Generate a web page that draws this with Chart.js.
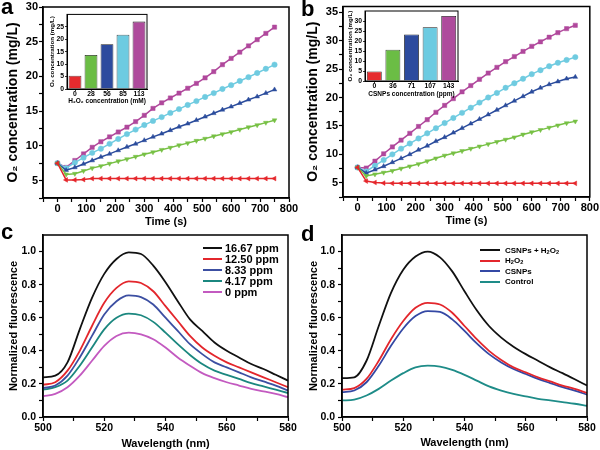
<!DOCTYPE html>
<html>
<head>
<meta charset="utf-8">
<title>O2 generation and fluorescence</title>
<script src="https://cdn.jsdelivr.net/npm/chart.js@4.4.1/dist/chart.umd.min.js"></script>
<style>
  html, body { margin: 0; padding: 0; background: #fff; }
  #figure { position: relative; width: 600px; height: 450px; overflow: hidden; font-family: "Liberation Sans", Arial, sans-serif; color: #000; }
  #figure canvas { position: absolute; }
  .panel-letter { position: absolute; font-weight: bold; font-size: 22px; line-height: 22px; }
  .legend { position: absolute; font-weight: bold; }
  .legend .row { display: flex; align-items: center; white-space: nowrap; }
  .legend .swatch { display: inline-block; height: 2px; }
  .legend sub { font-size: 70%; vertical-align: -1px; line-height: 0; }
</style>
</head>
<body>
<div id="figure">
  <canvas id="chart-a" width="300" height="232" style="left:0;top:0"></canvas>
  <canvas id="chart-b" width="300" height="232" style="left:300px;top:0"></canvas>
  <canvas id="chart-c" width="300" height="225" style="left:0;top:225px"></canvas>
  <canvas id="chart-d" width="300" height="225" style="left:300px;top:225px"></canvas>
  <canvas id="inset-a" width="110" height="95" style="left:45px;top:10px"></canvas>
  <canvas id="inset-b" width="125" height="100" style="left:340px;top:5px"></canvas>
  <div class="panel-letter" style="left:1px;top:-4px">a</div>
  <div class="panel-letter" style="left:301px;top:-2px">b</div>
  <div class="panel-letter" style="left:1px;top:221px">c</div>
  <div class="panel-letter" style="left:301px;top:223px">d</div>
  <div class="legend" id="legend-c" style="left:203px;top:243px;font-size:11px"></div>
  <div class="legend" id="legend-d" style="left:480px;top:245px;font-size:8px"></div>
</div>
<script>
// ---- data ----
const timePoints = [0, 30, 60, 90, 120, 150, 180, 210, 240, 270, 300, 330, 360, 390, 420, 450, 480, 510, 540, 570, 600, 630, 660, 690, 720, 750];

// panel a (H2O2 series)
const aRed     = [7.5, 5.1, 5.1, 5.15, 5.3, 5.3, 5.3, 5.3, 5.3, 5.3, 5.3, 5.3, 5.3, 5.3, 5.3, 5.3, 5.3, 5.3, 5.3, 5.3, 5.3, 5.3, 5.3, 5.3, 5.3, 5.3];
const aGreen   = [7.5, 5.9, 6.0, 6.4, 6.8, 7.1, 7.45, 7.8, 8.1, 8.45, 8.8, 9.1, 9.45, 9.75, 10.1, 10.4, 10.75, 11.05, 11.4, 11.7, 12.0, 12.35, 12.7, 13.0, 13.35, 13.7];
const aBlue    = [7.5, 6.5, 6.9, 7.4, 7.9, 8.4, 8.85, 9.35, 9.85, 10.3, 10.8, 11.3, 11.75, 12.25, 12.75, 13.2, 13.7, 14.2, 14.7, 15.2, 15.65, 16.15, 16.65, 17.1, 17.6, 18.1];
const aCyan    = [7.5, 6.8, 7.6, 8.3, 9.0, 9.6, 10.3, 11.0, 11.7, 12.35, 13.0, 13.6, 14.15, 14.75, 15.3, 15.9, 16.45, 17.05, 17.6, 18.2, 18.75, 19.35, 19.9, 20.5, 21.1, 21.7];
const aMagenta = [7.5, 6.9, 7.9, 8.85, 9.8, 10.6, 11.3, 12.0, 12.7, 13.5, 14.4, 15.4, 16.2, 16.9, 17.6, 18.3, 19.0, 19.8, 20.7, 21.7, 22.6, 23.5, 24.4, 25.3, 26.2, 27.1];

// panel b (CSNPs series)
const bRed     = [7.7, 5.3, 5.05, 4.95, 4.9, 4.9, 4.9, 4.9, 4.9, 4.9, 4.9, 4.9, 4.9, 4.9, 4.9, 4.9, 4.9, 4.9, 4.9, 4.9, 4.9, 4.9, 4.9, 4.9, 4.9, 4.9];
const bGreen   = [7.7, 6.2, 6.5, 6.8, 7.1, 7.5, 7.9, 8.3, 8.8, 9.3, 9.8, 10.2, 10.6, 11.0, 11.4, 11.8, 12.2, 12.6, 13.0, 13.5, 13.9, 14.3, 14.7, 15.1, 15.5, 15.8];
const bBlue    = [7.7, 6.7, 7.3, 7.9, 8.6, 9.3, 10.0, 10.8, 11.5, 12.3, 13.0, 13.8, 14.6, 15.4, 16.2, 17.0, 17.8, 18.6, 19.4, 20.2, 21.0, 21.7, 22.3, 22.8, 23.3, 23.6];
const bCyan    = [7.7, 7.0, 8.0, 9.0, 10.0, 11.0, 11.9, 12.8, 13.7, 14.6, 15.5, 16.4, 17.3, 18.2, 19.1, 20.0, 20.8, 21.7, 22.5, 23.3, 24.1, 24.8, 25.5, 26.1, 26.6, 27.1];
const bMagenta = [7.7, 7.6, 8.8, 10.1, 11.3, 12.5, 13.7, 14.9, 16.1, 17.4, 18.6, 19.8, 21.0, 22.1, 23.2, 24.3, 25.3, 26.3, 27.2, 28.1, 29.0, 29.8, 30.6, 31.4, 32.1, 32.7];

// insets
const insetALabels = ['0', '28', '56', '85', '113'];
const insetAValues = [5.3, 13.7, 18.0, 21.8, 27.1];
const insetBLabels = ['0', '36', '71', '107', '143'];
const insetBValues = [4.8, 15.6, 23.3, 26.9, 32.5];

// panels c and d (spectra)
const wavelengths = [500, 504, 508, 512, 516, 520, 524, 528, 532, 536, 540, 544, 548, 552, 556, 560, 564, 568, 572, 576, 580];
const cBlack   = [0.24, 0.25, 0.33, 0.53, 0.72, 0.865, 0.955, 0.995, 0.985, 0.915, 0.815, 0.70, 0.59, 0.52, 0.45, 0.40, 0.36, 0.32, 0.29, 0.255, 0.22];
const cRed     = [0.195, 0.21, 0.28, 0.40, 0.55, 0.69, 0.78, 0.82, 0.81, 0.76, 0.67, 0.58, 0.49, 0.42, 0.37, 0.33, 0.30, 0.27, 0.24, 0.21, 0.18];
const cBlue    = [0.175, 0.19, 0.25, 0.36, 0.49, 0.62, 0.70, 0.735, 0.725, 0.68, 0.60, 0.52, 0.44, 0.38, 0.33, 0.30, 0.27, 0.24, 0.215, 0.19, 0.16];
const cTeal    = [0.165, 0.18, 0.22, 0.31, 0.42, 0.53, 0.60, 0.625, 0.615, 0.575, 0.51, 0.44, 0.375, 0.32, 0.28, 0.255, 0.23, 0.205, 0.185, 0.165, 0.145];
const cMagenta = [0.125, 0.14, 0.18, 0.25, 0.34, 0.43, 0.49, 0.51, 0.50, 0.47, 0.42, 0.36, 0.31, 0.265, 0.235, 0.21, 0.19, 0.17, 0.155, 0.14, 0.12];
const cNames   = ['16.67 ppm', '12.50 ppm', '8.33 ppm', '4.17 ppm', '0 ppm'];

const dBlack = [0.235, 0.24, 0.34, 0.55, 0.75, 0.89, 0.97, 1.0, 0.965, 0.88, 0.76, 0.645, 0.55, 0.48, 0.425, 0.38, 0.34, 0.30, 0.265, 0.228, 0.19];
const dRed   = [0.165, 0.175, 0.23, 0.34, 0.47, 0.58, 0.66, 0.69, 0.68, 0.63, 0.55, 0.47, 0.40, 0.345, 0.30, 0.27, 0.24, 0.215, 0.19, 0.17, 0.145];
const dBlue  = [0.15, 0.16, 0.21, 0.31, 0.43, 0.535, 0.61, 0.64, 0.635, 0.59, 0.52, 0.445, 0.38, 0.33, 0.29, 0.26, 0.23, 0.205, 0.18, 0.16, 0.135];
const dTeal  = [0.10, 0.105, 0.13, 0.17, 0.22, 0.265, 0.30, 0.31, 0.305, 0.285, 0.255, 0.22, 0.185, 0.16, 0.14, 0.125, 0.11, 0.10, 0.09, 0.08, 0.068];
const dNames = ['CSNPs + H<sub>2</sub>O<sub>2</sub>', 'H<sub>2</sub>O<sub>2</sub>', 'CSNPs', 'Control'];

// tick values (minor ticks get no label)
const timeTicks    = [-50, 0, 50, 100, 150, 200, 250, 300, 350, 400, 450, 500, 550, 600, 650, 700, 750, 800];
const timeLabels   = [0, 100, 200, 300, 400, 500, 600, 700, 800];
const aYTicks      = [2.5, 5, 7.5, 10, 12.5, 15, 17.5, 20, 22.5, 25, 27.5, 30];
const aYLabels     = [5, 10, 15, 20, 25, 30];
const bYTicks      = [2.5, 5, 7.5, 10, 12.5, 15, 17.5, 20, 22.5, 25, 27.5, 30, 32.5, 35];
const bYLabels     = [5, 10, 15, 20, 25, 30, 35];
const waveTicks    = [500, 510, 520, 530, 540, 550, 560, 570, 580];
const waveLabels   = [500, 520, 540, 560, 580];
const fluoTicks    = [0, 0.1, 0.2, 0.3, 0.4, 0.5, 0.6, 0.7, 0.8, 0.9, 1.0];
const fluoLabels   = [0, 0.2, 0.4, 0.6, 0.8, 1.0];
const insetAYTicks = [0, 5, 10, 15, 20, 25];
const insetBYTicks = [0, 5, 10, 15, 20, 25, 30];

// ---- styling ----
const FONT = '"Liberation Sans", Arial, sans-serif';
const seriesColors = { red: '#e5262b', green: '#77c044', blue: '#2b4c9c', cyan: '#6fcbe0', magenta: '#b0489c' };
const barColors = ['#e62b2e', '#6bbd45', '#2d4b9e', '#6dcbe1', '#ae4b9c'];
const cColors = ['#111111', '#e3262c', '#3c4fa2', '#1b877f', '#c35ac0'];
const dColors = ['#111111', '#e3262c', '#3448a4', '#1e8c88'];

function boldFont(size) {
    return { family: FONT, size: size, weight: 'bold', lineHeight: 1 };
}

function isLabeled(v, list) {
    return list.some(l => Math.abs(l - v) < 1e-6);
}

// black box around the plot area, optional white fill (insets)
const framePlugin = {
    id: 'frame',
    beforeDraw(chart, args, opts) {
        if (!opts.fill) return;
        const { ctx, chartArea: a } = chart;
        ctx.save();
        ctx.fillStyle = opts.fill;
        ctx.fillRect(a.left, a.top, a.right - a.left, a.bottom - a.top);
        ctx.restore();
    },
    afterDraw(chart, args, opts) {
        const { ctx, chartArea: a } = chart;
        ctx.save();
        ctx.strokeStyle = '#000';
        ctx.lineWidth = opts.width || 1.5;
        ctx.strokeRect(a.left, a.top, a.right - a.left, a.bottom - a.top);
        ctx.restore();
    }
};
Chart.register(framePlugin);

function numberAxis(cfg) {
    return {
        type: 'linear',
        min: cfg.min,
        max: cfg.max,
        afterBuildTicks: scale => { scale.ticks = cfg.ticks.map(v => ({ value: v })); },
        afterFit: scale => {
            if (cfg.horizontal) scale.height = cfg.size; else scale.width = cfg.size;
        },
        border: { display: true, color: '#000', width: cfg.borderWidth || 1.5 },
        grid: { display: true, drawOnChartArea: false, drawTicks: true, tickLength: cfg.tickLength || 4, tickColor: '#000', tickWidth: cfg.tickWidth || 1.2 },
        ticks: {
            autoSkip: false,
            maxRotation: 0,
            color: '#000',
            padding: cfg.tickPadding,
            font: boldFont(cfg.tickSize),
            callback: v => isLabeled(v, cfg.labeled) ? cfg.format(v) : ''
        },
        title: { display: true, text: cfg.title, color: '#000', font: boldFont(cfg.titleSize), padding: cfg.titlePadding }
    };
}

function timeSeries(values, color, pointStyle, rotation) {
    return {
        data: values.map((y, i) => ({ x: timePoints[i], y: y })),
        borderColor: color,
        backgroundColor: color,
        borderWidth: 1.5,
        pointStyle: pointStyle,
        pointRotation: rotation,
        pointRadius: pointStyle === 'rect' ? 3 : 2.7,
        pointBorderWidth: 0.5,
        tension: 0
    };
}

function spectrum(values, color) {
    return {
        data: values.map((y, i) => ({ x: wavelengths[i], y: y })),
        borderColor: color,
        borderWidth: 1.8,
        pointRadius: 0,
        cubicInterpolationMode: 'monotone'
    };
}

const commonOptions = {
    responsive: false,
    animation: false,
    events: [],
    plugins: { legend: { display: false }, tooltip: { enabled: false }, frame: {} }
};

function o2Chart(id, series, yMin, yMax, yTicks, yLabels, padding) {
    return new Chart(document.getElementById(id), {
        type: 'line',
        data: {
            datasets: [
                timeSeries(series[0], seriesColors.red, 'triangle', 270),
                timeSeries(series[1], seriesColors.green, 'triangle', 180),
                timeSeries(series[2], seriesColors.blue, 'triangle', 0),
                timeSeries(series[3], seriesColors.cyan, 'circle', 0),
                timeSeries(series[4], seriesColors.magenta, 'rect', 0)
            ]
        },
        options: {
            ...commonOptions,
            layout: { padding: padding },
            scales: {
                x: numberAxis({
                    horizontal: true, min: -50, max: 800, ticks: timeTicks, labeled: timeLabels,
                    format: v => String(v), size: 29, tickPadding: 1, tickSize: 11,
                    title: 'Time (s)', titleSize: 11, titlePadding: { top: 0, bottom: 0 }
                }),
                y: numberAxis({
                    min: yMin, max: yMax, ticks: yTicks, labeled: yLabels,
                    format: v => String(v), size: 43, tickPadding: 1, tickSize: 11,
                    title: 'O\u2082 concentration (mg/L)', titleSize: 14, titlePadding: { top: 6, bottom: 0 }
                })
            }
        }
    });
}

function spectrumChart(id, series, colors, padding, yWidth, xHeight) {
    return new Chart(document.getElementById(id), {
        type: 'line',
        data: { datasets: series.map((s, i) => spectrum(s, colors[i])) },
        options: {
            ...commonOptions,
            layout: { padding: padding },
            scales: {
                x: numberAxis({
                    horizontal: true, min: 500, max: 580, ticks: waveTicks, labeled: waveLabels,
                    format: v => String(v), size: xHeight, tickPadding: 2, tickSize: 10.5,
                    title: 'Wavelength (nm)', titleSize: 11, titlePadding: { top: 0, bottom: 0 }
                }),
                y: numberAxis({
                    min: 0, max: 1.1, ticks: fluoTicks, labeled: fluoLabels,
                    format: v => v.toFixed(1), size: yWidth, tickPadding: 3, tickSize: 10.5,
                    title: 'Normalized fluorescence', titleSize: 11, titlePadding: { top: 8, bottom: 0 }
                })
            }
        }
    });
}

function insetChart(id, labels, values, yMax, yTicks, xTitle, padding, yWidth, xHeight, yTitlePad) {
    return new Chart(document.getElementById(id), {
        type: 'bar',
        data: {
            labels: labels,
            datasets: [{
                data: values,
                backgroundColor: barColors,
                borderColor: '#1a1a1a',
                borderWidth: 0.8,
                categoryPercentage: 0.8,
                barPercentage: 1
            }]
        },
        options: {
            ...commonOptions,
            plugins: { legend: { display: false }, tooltip: { enabled: false }, frame: { width: 1, fill: '#fff' } },
            layout: { padding: padding },
            scales: {
                x: {
                    afterFit: scale => { scale.height = xHeight; },
                    border: { display: true, color: '#000', width: 1 },
                    grid: { display: true, offset: false, drawOnChartArea: false, tickLength: 2, tickColor: '#000', tickWidth: 0.8 },
                    ticks: { color: '#000', padding: 0, font: boldFont(6.8), maxRotation: 0, autoSkip: false },
                    title: { display: true, text: xTitle, color: '#000', font: boldFont(6.5), padding: { top: 0, bottom: 0 } }
                },
                y: numberAxis({
                    min: 0, max: yMax, ticks: yTicks, labeled: yTicks, format: v => String(v),
                    size: yWidth, tickLength: 2, tickWidth: 0.8, borderWidth: 1, tickPadding: 1, tickSize: 6.8,
                    title: 'O\u2082 concentration (mg/L)', titleSize: 6.2, titlePadding: { top: yTitlePad, bottom: 0 }
                })
            }
        }
    });
}

function buildLegend(id, names, colors, rowHeight, swatchWidth, gap) {
    const box = document.getElementById(id);
    names.forEach((name, i) => {
        const row = document.createElement('div');
        row.className = 'row';
        row.style.height = rowHeight + 'px';
        row.innerHTML = '<span class="swatch" style="width:' + swatchWidth + 'px;margin-right:' + gap +
            'px;background:' + colors[i] + '"></span><span>' + name + '</span>';
        box.appendChild(row);
    });
}

o2Chart('chart-a', [aRed, aGreen, aBlue, aCyan, aMagenta], 2.5, 30, aYTicks, aYLabels, { left: 0, right: 11, top: 7, bottom: 5 });
o2Chart('chart-b', [bRed, bGreen, bBlue, bCyan, bMagenta], 2.5, 36, bYTicks, bYLabels, { left: 0, right: 10, top: 4, bottom: 6 });
spectrumChart('chart-c', [cBlack, cRed, cBlue, cTeal, cMagenta], cColors, { left: 0, right: 12, top: 10, bottom: 1 }, 43, 32);
spectrumChart('chart-d', [dBlack, dRed, dBlue, dTeal], dColors, { left: 0, right: 13, top: 10, bottom: 2 }, 42, 31);
insetChart('inset-a', insetALabels, insetAValues, 30, insetAYTicks, 'H\u2082O\u2082 concentration (mM)', { left: 0, right: 8, top: 4, bottom: 1 }, 22, 15, 4.6);
insetChart('inset-b', insetBLabels, insetBValues, 35, insetBYTicks, 'CSNPs concentration (ppm)', { left: 0, right: 7, top: 6, bottom: 8 }, 25, 16, 6.9);

buildLegend('legend-c', cNames, cColors, 10.9, 19, 3);
buildLegend('legend-d', dNames, dColors, 10.5, 20, 5);
</script>
</body>
</html>
